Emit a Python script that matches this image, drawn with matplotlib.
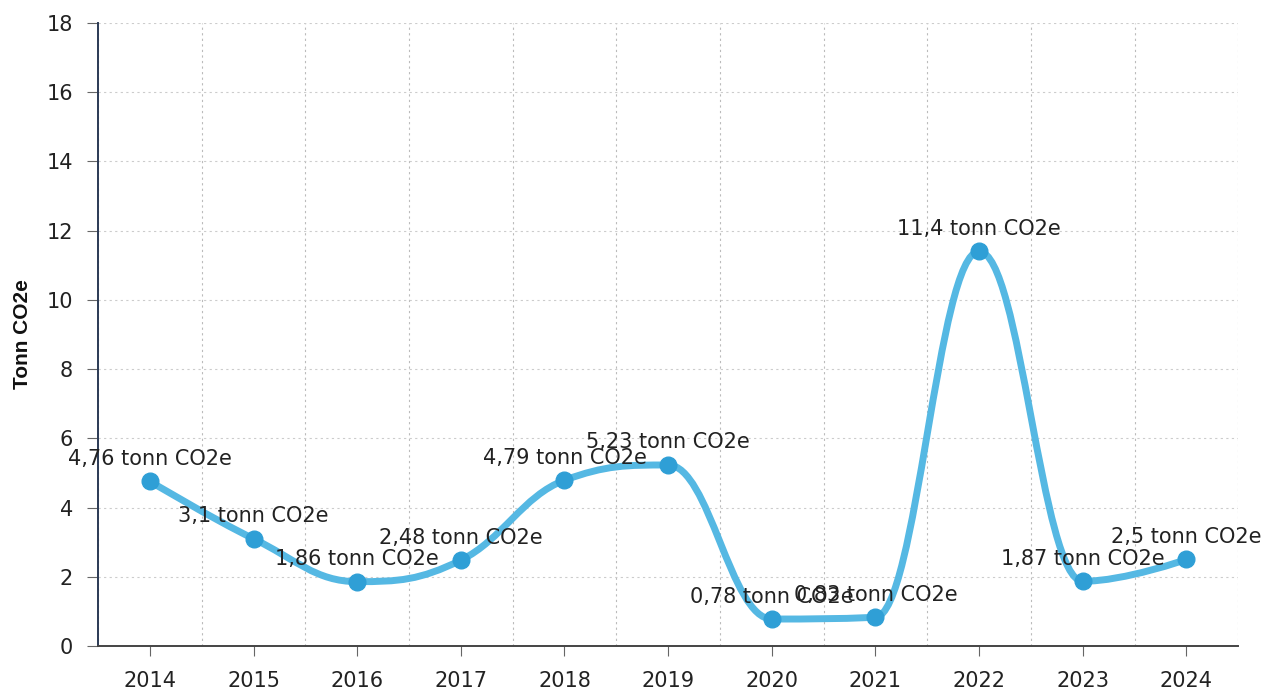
import numpy as np
import matplotlib
matplotlib.use("Agg")
import matplotlib.pyplot as plt
from matplotlib.path import Path
from matplotlib.patches import PathPatch

# Data
years = [2014, 2015, 2016, 2017, 2018, 2019, 2020, 2021, 2022, 2023, 2024]
values = [4.76, 3.1, 1.86, 2.48, 4.79, 5.23, 0.78, 0.83, 11.4, 1.87, 2.5]
labels = ["4,76", "3,1", "1,86", "2,48", "4,79", "5,23", "0,78", "0,83", "11,4", "1,87", "2,5"]
unit = "tonn CO2e"

line_color = "#55b8e3"
marker_color = "#2f9fd6"

fig = plt.figure(figsize=(12.7, 6.91), dpi=100)
ax = fig.add_axes([0.0772, 0.0651, 0.8978, 0.9016])
ax.set_xlim(2013.5, 2024.5)
ax.set_ylim(0, 18)


def spline_path(xs, ys, smoothing=1.5):
    # spline through the points, control points like a "spline" series type
    denom = smoothing + 1
    n = len(xs)
    ctrl = []
    for i in range(n):
        x, y = xs[i], ys[i]
        if i == 0 or i == n - 1:
            ctrl.append(((x, y), (x, y)))
            continue
        lx, ly = xs[i - 1], ys[i - 1]
        nx, ny = xs[i + 1], ys[i + 1]
        lcx = (smoothing * x + lx) / denom
        lcy = (smoothing * y + ly) / denom
        rcx = (smoothing * x + nx) / denom
        rcy = (smoothing * y + ny) / denom
        corr = (rcy - lcy) * (rcx - x) / (rcx - lcx) + y - rcy
        lcy += corr
        rcy += corr
        # keep control points between neighbouring values
        if lcy > ly and lcy > y:
            lcy = max(ly, y)
            rcy = 2 * y - lcy
        elif lcy < ly and lcy < y:
            lcy = min(ly, y)
            rcy = 2 * y - lcy
        if rcy > ny and rcy > y:
            rcy = max(ny, y)
            lcy = 2 * y - rcy
        elif rcy < ny and rcy < y:
            rcy = min(ny, y)
            lcy = 2 * y - rcy
        ctrl.append(((lcx, lcy), (rcx, rcy)))
    verts = [(xs[0], ys[0])]
    codes = [Path.MOVETO]
    for i in range(1, n):
        verts += [ctrl[i - 1][1], ctrl[i][0], (xs[i], ys[i])]
        codes += [Path.CURVE4] * 3
    return Path(verts, codes)


ax.add_patch(PathPatch(spline_path(years, values), fill=False, edgecolor=line_color,
                       lw=5, capstyle="round", joinstyle="round", zorder=3))
ax.plot(years, values, "o", color=marker_color, markersize=12, zorder=4)

for x, y, lab in zip(years, values, labels):
    ax.annotate(f"{lab} {unit}", (x, y), xytext=(0, 9), textcoords="offset points",
                ha="center", va="bottom", fontsize=15, color="#222222", zorder=5)

# grid and axes
ax.set_xticks(years)
ax.set_xticks(np.arange(2013.5, 2025, 1.0), minor=True)
ax.set_yticks(range(0, 19, 2))
ax.grid(True, which="minor", axis="x", color="#bbbbbb", ls=(0, (2, 3)), lw=0.8)
ax.grid(True, which="major", axis="y", color="#cccccc", ls=(0, (2, 3)), lw=0.8)
ax.tick_params(axis="x", which="minor", length=0)
ax.tick_params(axis="x", which="major", length=7, color="#666666", labelsize=15,
               labelcolor="#222222", pad=11)
ax.tick_params(axis="y", length=8, color="#666666", labelsize=15,
               labelcolor="#222222", pad=10)

for s in ["top", "right"]:
    ax.spines[s].set_visible(False)
ax.spines["left"].set_color("#2b3a55")
ax.spines["left"].set_linewidth(1.4)
ax.spines["bottom"].set_color("#444444")
ax.spines["bottom"].set_linewidth(1.4)

ax.set_ylabel("Tonn CO2e", fontsize=15, fontweight="bold", family="Liberation Sans",
              color="#111111")
ax.yaxis.set_label_coords(-0.058, 0.5)

fig.savefig("out.png", dpi=100)
